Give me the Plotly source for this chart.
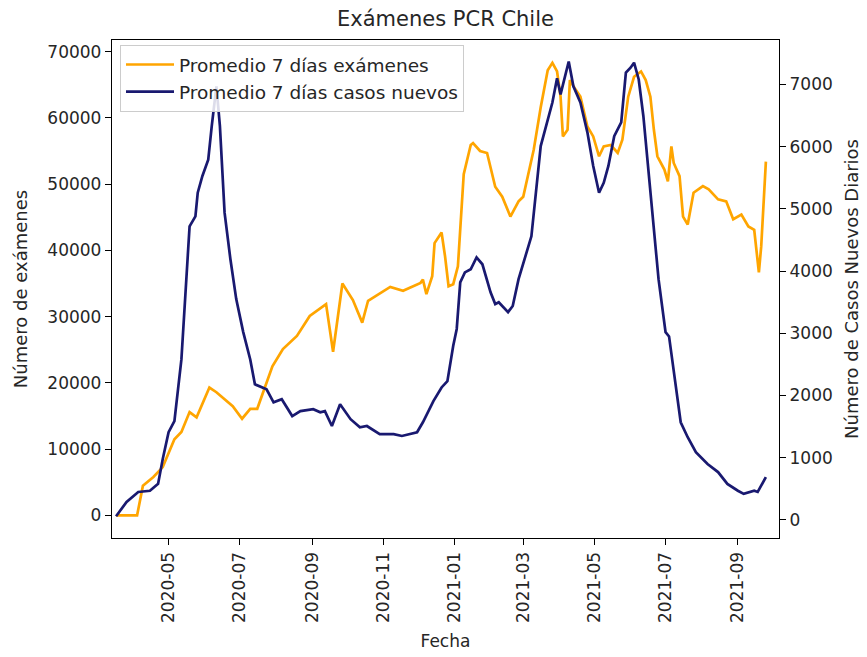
import plotly.graph_objects as go

# ---------------- data ----------------
fechas_examenes = [
    "2020-03-17", "2020-04-04", "2020-04-09", "2020-04-18", "2020-04-26",
    "2020-05-06", "2020-05-12", "2020-05-19", "2020-05-25", "2020-05-29",
    "2020-06-05", "2020-06-11", "2020-06-18", "2020-06-25", "2020-07-03",
    "2020-07-10", "2020-07-16", "2020-07-22", "2020-07-29", "2020-08-07",
    "2020-08-19", "2020-08-30", "2020-09-13", "2020-09-19", "2020-09-27",
    "2020-10-06", "2020-10-14", "2020-10-19", "2020-10-28", "2020-11-07",
    "2020-11-18", "2020-12-03", "2020-12-05", "2020-12-08", "2020-12-13",
    "2020-12-15", "2020-12-21", "2020-12-24", "2020-12-27", "2020-12-31",
    "2021-01-04", "2021-01-09", "2021-01-15", "2021-01-17", "2021-01-23",
    "2021-01-29", "2021-02-05", "2021-02-11", "2021-02-18", "2021-02-25",
    "2021-03-01", "2021-03-10", "2021-03-16", "2021-03-22", "2021-03-26",
    "2021-03-30", "2021-04-02", "2021-04-04", "2021-04-08", "2021-04-10",
    "2021-04-14", "2021-04-19", "2021-04-25", "2021-04-30", "2021-05-05",
    "2021-05-09", "2021-05-15", "2021-05-21", "2021-05-25", "2021-05-30",
    "2021-06-04", "2021-06-10", "2021-06-14", "2021-06-18", "2021-06-21",
    "2021-06-24", "2021-06-30", "2021-07-03", "2021-07-06", "2021-07-08",
    "2021-07-13", "2021-07-16", "2021-07-20", "2021-07-25", "2021-08-02",
    "2021-08-07", "2021-08-15", "2021-08-22", "2021-08-28", "2021-09-04",
    "2021-09-10", "2021-09-15", "2021-09-19", "2021-09-21", "2021-09-25",
]
examenes = [
    0, 0, 4500, 5800, 7300,
    11500, 12600, 15600, 14800, 16500,
    19300, 18600, 17600, 16500, 14600,
    16100, 16100, 19100, 22500, 25100,
    27100, 30100, 31900, 24700, 35000,
    32500, 29100, 32400, 33400, 34500,
    33900, 35100, 35600, 33400, 36100,
    41100, 42700, 39100, 34600, 34900,
    37600, 51500, 55900, 56200, 55000,
    54700, 49600, 48100, 45100, 47400,
    48100, 55200, 61600, 67200, 68300,
    67000, 63200, 57200, 58200, 65700,
    64500, 63200, 58700, 57200, 54200,
    55700, 55900, 54700, 56700, 63200,
    66200, 67000, 65700, 63200, 58200,
    54200, 52200, 50400, 55700, 53200,
    51200, 45100, 43900, 48700, 49700,
    49200, 47700, 47400, 44700, 45400,
    43600, 43100, 36700, 40600, 53400,
]

fechas_casos = [
    "2020-03-17", "2020-03-26", "2020-04-05", "2020-04-15", "2020-04-22",
    "2020-04-26", "2020-05-01", "2020-05-06", "2020-05-12", "2020-05-19",
    "2020-05-24", "2020-05-26", "2020-05-30", "2020-06-04", "2020-06-07",
    "2020-06-11", "2020-06-14", "2020-06-18", "2020-06-23", "2020-06-28",
    "2020-07-04", "2020-07-10", "2020-07-14", "2020-07-21", "2020-07-24",
    "2020-07-30", "2020-08-06", "2020-08-15", "2020-08-22", "2020-09-02",
    "2020-09-08", "2020-09-12", "2020-09-18", "2020-09-25", "2020-10-04",
    "2020-10-12", "2020-10-18", "2020-10-29", "2020-11-10", "2020-11-17",
    "2020-11-30", "2020-12-05", "2020-12-14", "2020-12-21", "2020-12-26",
    "2020-12-31", "2021-01-03", "2021-01-06", "2021-01-10", "2021-01-15",
    "2021-01-20", "2021-01-25", "2021-02-01", "2021-02-05", "2021-02-08",
    "2021-02-16", "2021-02-20", "2021-02-25", "2021-03-08", "2021-03-16",
    "2021-03-26", "2021-03-30", "2021-04-02", "2021-04-09", "2021-04-13",
    "2021-04-19", "2021-04-25", "2021-04-30", "2021-05-05", "2021-05-09",
    "2021-05-13", "2021-05-18", "2021-05-24", "2021-05-28", "2021-06-01",
    "2021-06-04", "2021-06-08", "2021-06-12", "2021-06-18", "2021-06-25",
    "2021-07-01", "2021-07-04", "2021-07-14", "2021-07-20", "2021-07-27",
    "2021-08-06", "2021-08-15", "2021-08-23", "2021-09-01", "2021-09-06",
    "2021-09-15", "2021-09-18", "2021-09-25",
]
casos = [
    60, 290, 450, 470, 580,
    980, 1410, 1590, 2580, 4720,
    4880, 5260, 5530, 5790, 6330,
    6970, 6330, 4940, 4190, 3550,
    3020, 2580, 2180, 2130, 2100,
    1890, 1940, 1670, 1750, 1780,
    1730, 1750, 1510, 1860, 1620,
    1490, 1510, 1380, 1380, 1350,
    1410, 1570, 1910, 2130, 2230,
    2800, 3070, 3820, 3980, 4030,
    4220, 4110, 3660, 3470, 3500,
    3340, 3440, 3870, 4560, 6010,
    6710, 7100, 6840, 7370, 6970,
    6710, 6230, 5690, 5260, 5420,
    5690, 6170, 6390, 7190, 7270,
    7350, 7080, 6490, 5310, 3870,
    3020, 2950, 1570, 1330, 1090,
    900, 770, 580, 470, 420,
    470, 450, 690,
]

x_tick_vals = ["2020-05-01", "2020-07-01", "2020-09-01", "2020-11-01", "2021-01-01",
               "2021-03-01", "2021-05-01", "2021-07-01", "2021-09-01"]
x_tick_text = ["2020-05", "2020-07", "2020-09", "2020-11", "2021-01",
               "2021-03", "2021-05", "2021-07", "2021-09"]
y1_ticks = [0, 10000, 20000, 30000, 40000, 50000, 60000, 70000]
y2_ticks = [0, 1000, 2000, 3000, 4000, 5000, 6000, 7000]

# ---------------- figure ----------------
FONT = "DejaVu Sans"
TXT = "#262626"
W, H = 859, 649          # page body has an 8px margin

fig = go.Figure()
fig.add_trace(go.Scatter(
    x=fechas_examenes, y=examenes, mode="lines",
    name="Promedio 7 días exámenes",
    line=dict(color="#FFA500", width=2.7), yaxis="y",
))
fig.add_trace(go.Scatter(
    x=fechas_casos, y=casos, mode="lines",
    name="Promedio 7 días casos nuevos",
    line=dict(color="#191970", width=2.7), yaxis="y2",
))

axis_common = dict(
    showgrid=False, zeroline=False, showline=True, linecolor="black", linewidth=1.3,
    ticks="outside", ticklen=6, tickwidth=1.3, tickcolor="black",
    tickfont=dict(family=FONT, size=17, color=TXT),
)

fig.update_layout(
    width=W, height=H,
    margin=dict(l=104, r=88, t=32, b=119),
    paper_bgcolor="white", plot_bgcolor="white",
    font=dict(family=FONT, color=TXT),
    title=dict(text="Exámenes PCR Chile", x=0.5, xref="paper", xanchor="center",
               y=1 - 11 / H, yref="container", yanchor="middle",
               font=dict(family=FONT, size=21, color=TXT)),
    xaxis=dict(
        **axis_common, mirror=True, type="date",
        range=["2020-03-13 12:00", "2021-10-06 06:00"],
        tickvals=x_tick_vals, ticktext=x_tick_text, tickangle=-90,
        title=dict(text="Fecha", font=dict(family=FONT, size=17, color=TXT), standoff=13),
        automargin=False,
    ),
    yaxis=dict(
        **axis_common, range=[-3400, 71750], tickvals=y1_ticks, tickformat="d",
        title=dict(text="Número de exámenes", font=dict(family=FONT, size=18, color=TXT), standoff=15),
        automargin=False,
    ),
    yaxis2=dict(
        **axis_common, range=[-290, 7715], tickvals=y2_ticks, tickformat="d",
        overlaying="y", side="right",
        title=dict(text="Número de Casos Nuevos Diarios", font=dict(family=FONT, size=18, color=TXT), standoff=13),
        automargin=False,
    ),
    legend=dict(
        x=0.012, y=0.99, xanchor="left", yanchor="top",
        bgcolor="rgba(255,255,255,0.85)", bordercolor="#cccccc", borderwidth=1,
        font=dict(family=FONT, size=18.5, color=TXT),
        tracegroupgap=0, itemwidth=48,
    ),
    showlegend=True,
)

fig.write_html("out.html")
